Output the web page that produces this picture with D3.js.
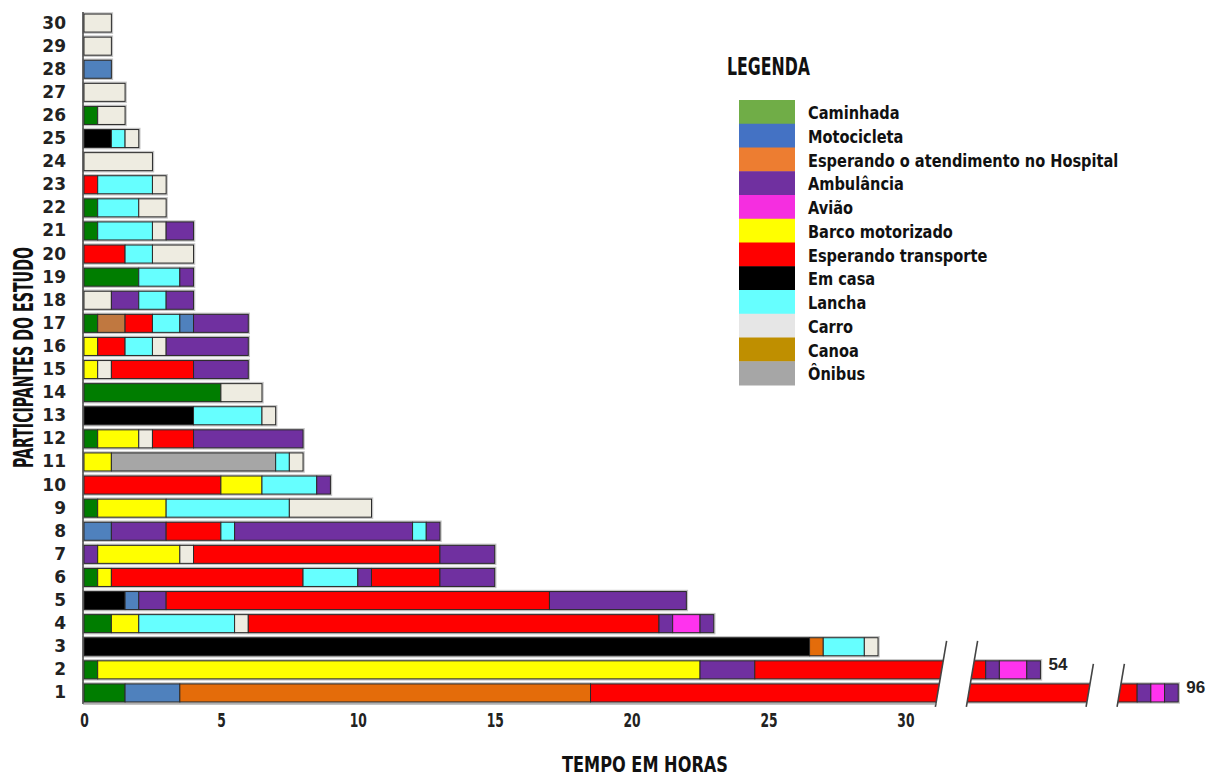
<!DOCTYPE html>
<html>
<head>
<meta charset="utf-8">
<script src="https://cdn.jsdelivr.net/npm/d3@7"></script>
<style>
  body { margin: 0; background: #fff; }
  svg { display: block; }
</style>
</head>
<body>
<svg id="chart"></svg>
<script>
// legend categories, in legend order
const modos = ["Caminhada", "Motocicleta", "Esperando o atendimento no Hospital", "Ambulância", "Avião",
  "Barco motorizado", "Esperando transporte", "Em casa", "Lancha", "Carro", "Canoa", "Ônibus"];
const codigos = ["cam", "mot", "hos", "amb", "avi", "bar", "esp", "cas", "lan", "car", "can", "oni"];
const legendColours = ["#70ad47", "#4472c4", "#ed7d31", "#7030a0", "#f52ee0", "#ffff00",
  "#ff0000", "#000000", "#66ffff", "#e6e6e6", "#bf8f00", "#a6a6a6"];
const barColours = ["#007d00", "#4f81bd", "#e46c0a", "#7030a0", "#ff33ee", "#ffff00",
  "#ff0000", "#000000", "#66ffff", "#eeece1", "#c07840", "#a6a6a6"];

const participantes = d3.range(1, 31);

// sequence of modes per participant (1..30)
const etapas = [
  ["cam", "mot", "hos", "esp", "amb", "avi", "amb"],
  ["cam", "bar", "amb", "esp", "amb", "avi", "amb"],
  ["cas", "hos", "lan", "car"],
  ["cam", "bar", "lan", "car", "esp", "amb", "avi", "amb"],
  ["cas", "mot", "amb", "esp", "amb"],
  ["cam", "bar", "esp", "lan", "amb", "esp", "amb"],
  ["amb", "bar", "car", "esp", "amb"],
  ["mot", "amb", "esp", "lan", "amb", "lan", "amb"],
  ["cam", "bar", "lan", "car"],
  ["esp", "bar", "lan", "amb"],
  ["bar", "oni", "lan", "car"],
  ["cam", "bar", "car", "esp", "amb"],
  ["cas", "lan", "car"],
  ["cam", "car"],
  ["bar", "car", "esp", "amb"],
  ["bar", "esp", "lan", "car", "amb"],
  ["cam", "can", "esp", "lan", "mot", "amb"],
  ["car", "amb", "lan", "amb"],
  ["cam", "lan", "amb"],
  ["esp", "lan", "car"],
  ["cam", "lan", "car", "amb"],
  ["cam", "lan", "car"],
  ["esp", "lan", "car"],
  ["car"],
  ["cas", "lan", "car"],
  ["cam", "car"],
  ["car"],
  ["mot"],
  ["car"],
  ["car"]
];

// hours spent in each step
const horas = [
  [1.5, 2, 15, 76, 0.5, 0.5, 0.5],
  [0.5, 22, 2, 27.5, 0.5, 1, 0.5],
  [26.5, 0.5, 1.5, 0.5],
  [1, 1, 3.5, 0.5, 15, 0.5, 1, 0.5],
  [1.5, 0.5, 1, 14, 5],
  [0.5, 0.5, 7, 2, 0.5, 2.5, 2],
  [0.5, 3, 0.5, 9, 2],
  [1, 2, 2, 0.5, 6.5, 0.5, 0.5],
  [0.5, 2.5, 4.5, 3],
  [5, 1.5, 2, 0.5],
  [1, 6, 0.5, 0.5],
  [0.5, 1.5, 0.5, 1.5, 4],
  [4, 2.5, 0.5],
  [5, 1.5],
  [0.5, 0.5, 3, 2],
  [0.5, 1, 1, 0.5, 3],
  [0.5, 1, 1, 1, 0.5, 2],
  [1, 1, 1, 1],
  [2, 1.5, 0.5],
  [1.5, 1, 1.5],
  [0.5, 2, 0.5, 1],
  [0.5, 1.5, 1],
  [0.5, 2, 0.5],
  [2.5],
  [1, 0.5, 0.5],
  [0.5, 1],
  [1.5],
  [1],
  [1],
  [1]
];

const xTicks = [0, 5, 10, 15, 20, 25, 30];
// axis breaks (hours skipped)
const quebras = [[31.3, 51.5], [55.8, 93.9]];
const tempoMax = 96;

var width = 1208, height = 778;
var svg = d3.select("#chart").attr("width", width).attr("height", height);

var barColour = d3.scaleOrdinal().domain(codigos).range(barColours);
var legendColour = d3.scaleOrdinal().domain(modos).range(legendColours);

// broken x scale: piecewise linear
var pxPerHour = 27.38, gapPx = 31, x0 = 84;
var dom = [0], rng = [x0];
quebras.forEach(function(q) {
  rng.push(rng[rng.length - 1] + (q[0] - dom[dom.length - 1]) * pxPerHour);
  dom.push(q[0]);
  rng.push(rng[rng.length - 1] + gapPx);
  dom.push(q[1]);
});
rng.push(rng[rng.length - 1] + (tempoMax - dom[dom.length - 1]) * pxPerHour);
dom.push(tempoMax);
var x = d3.scaleLinear().domain(dom).range(rng);

var y = d3.scaleBand()
  .domain(participantes.slice().reverse())
  .range([11.5, 704.5])
  .paddingInner(0.22)
  .paddingOuter(0.11);

// build stacked rows
var rows = participantes.map(function(p, i) {
  var start = 0;
  var segs = etapas[i].map(function(c, j) {
    var s = { code: c, x0: start, x1: start + horas[i][j] };
    start += horas[i][j];
    return s;
  });
  return { p: p, total: start, segs: segs };
});

var bars = svg.append("g");
var rowG = bars.selectAll("g.row")
  .data(rows)
  .enter().append("g")
  .attr("class", "row")
  .attr("transform", function(d) { return "translate(0," + y(d.p) + ")"; });

// light halo around each bar
rowG.append("rect")
  .attr("x", x(0))
  .attr("y", 0)
  .attr("width", function(d) { return x(d.total) - x(0); })
  .attr("height", y.bandwidth())
  .attr("fill", "none")
  .attr("stroke", "#c4c4c4")
  .attr("stroke-width", 3.5);

rowG.selectAll("rect.seg")
  .data(function(d) { return d.segs; })
  .enter().append("rect")
  .attr("class", "seg")
  .attr("x", function(d) { return x(d.x0); })
  .attr("y", 0)
  .attr("width", function(d) { return x(d.x1) - x(d.x0); })
  .attr("height", y.bandwidth())
  .attr("fill", function(d) { return barColour(d.code); })
  .attr("stroke", "#2a2a2a")
  .attr("stroke-width", 1);

// breaks: white slanted gap + two slanted lines
var slope = 0.17;
quebras.forEach(function(q) {
  var hit = rows.filter(function(r) { return r.total > q[0]; });
  if (!hit.length) return;
  var top = d3.min(hit, function(r) { return y(r.p); }) - 20;
  var bot = d3.max(hit, function(r) { return y(r.p) + y.bandwidth(); }) + 5;
  var mid = (top + bot) / 2;
  var xl = x(q[0]), xr = x(q[1]);
  function at(xm, yy) { return xm - (yy - mid) * slope; }
  svg.append("polygon")
    .attr("points", [
      [at(xl, top - 2), top - 2], [at(xr, top - 2), top - 2],
      [at(xr, bot + 2), bot + 2], [at(xl, bot + 2), bot + 2]
    ].map(function(p) { return p.join(","); }).join(" "))
    .attr("fill", "#fff");
  [xl, xr].forEach(function(xm) {
    svg.append("line")
      .attr("x1", at(xm, top)).attr("y1", top)
      .attr("x2", at(xm, bot)).attr("y2", bot)
      .attr("stroke", "#444")
      .attr("stroke-width", 1.6);
  });
});

// totals for rows past the first break
svg.append("g").selectAll("text")
  .data(rows.filter(function(r) { return r.total > quebras[0][0]; }))
  .enter().append("text")
  .attr("x", function(d) { return x(d.total) + 8; })
  .attr("y", function(d) { return y(d.p) + y.bandwidth() / 2 - 6; })
  .attr("dy", "0.35em")
  .style("font-family", "'Liberation Sans', Arial, sans-serif")
  .style("font-weight", "bold")
  .style("font-size", "17px")
  .attr("fill", "#222")
  .text(function(d) { return d.total; });

// axes
svg.append("line")
  .attr("x1", 83).attr("x2", 83)
  .attr("y1", 12).attr("y2", 704)
  .attr("stroke", "#444").attr("stroke-width", 1.5);
svg.append("line")
  .attr("x1", 83).attr("x2", x(quebras[0][0]) - 4)
  .attr("y1", 704).attr("y2", 704)
  .attr("stroke", "#888").attr("stroke-width", 1);

var yAxis = svg.append("g")
  .attr("transform", "translate(83,0)")
  .call(d3.axisLeft(y).tickSize(0).tickPadding(17));
yAxis.select(".domain").remove();
yAxis.selectAll("text")
  .style("font-family", "'DejaVu Sans', sans-serif")
  .style("font-weight", "bold")
  .style("font-size", "17px")
  .attr("fill", "#222");

var xAxis = svg.append("g")
  .attr("transform", "translate(0,704)")
  .call(d3.axisBottom(x).tickValues(xTicks).tickSize(0).tickPadding(10));
xAxis.select(".domain").remove();
xAxis.selectAll("text")
  .attr("transform", "scale(0.72,1)")
  .attr("x", 0)
  .style("font-family", "'DejaVu Sans Condensed', 'DejaVu Sans', sans-serif")
  .style("font-weight", "bold")
  .style("font-size", "19px")
  .attr("fill", "#222");

var condensed = "'DejaVu Sans Condensed', 'DejaVu Sans', sans-serif";

svg.append("text")
  .attr("x", 562).attr("y", 772)
  .attr("textLength", 166).attr("lengthAdjust", "spacingAndGlyphs")
  .style("font-family", condensed).style("font-weight", "bold").style("font-size", "22px")
  .attr("fill", "#111")
  .text("TEMPO EM HORAS");

svg.append("text")
  .attr("transform", "translate(33,468) rotate(-90)")
  .attr("textLength", 221).attr("lengthAdjust", "spacingAndGlyphs")
  .style("font-family", condensed).style("font-weight", "bold").style("font-size", "27px")
  .attr("fill", "#111")
  .text("PARTICIPANTES DO ESTUDO");

// legend
var legend = svg.append("g").attr("transform", "translate(739,100)");
svg.append("text")
  .attr("x", 727).attr("y", 75)
  .attr("textLength", 83).attr("lengthAdjust", "spacingAndGlyphs")
  .style("font-family", condensed).style("font-weight", "bold").style("font-size", "24px")
  .attr("fill", "#111")
  .text("LEGENDA");

var itemH = 23.75;
legend.selectAll("rect")
  .data(modos)
  .enter().append("rect")
  .attr("x", 0)
  .attr("y", function(d, i) { return i * itemH; })
  .attr("width", 56)
  .attr("height", itemH + 0.5)
  .attr("fill", function(d) { return legendColour(d); });

legend.selectAll("text")
  .data(modos)
  .enter().append("text")
  .attr("transform", function(d, i) { return "translate(69," + (i * itemH + itemH / 2 + 1) + ") scale(0.9,1)"; })
  .attr("dy", "0.35em")
  .style("font-family", condensed)
  .style("font-weight", "bold")
  .style("font-size", "18px")
  .attr("fill", "#111")
  .text(function(d) { return d; });
</script>
</body>
</html>
